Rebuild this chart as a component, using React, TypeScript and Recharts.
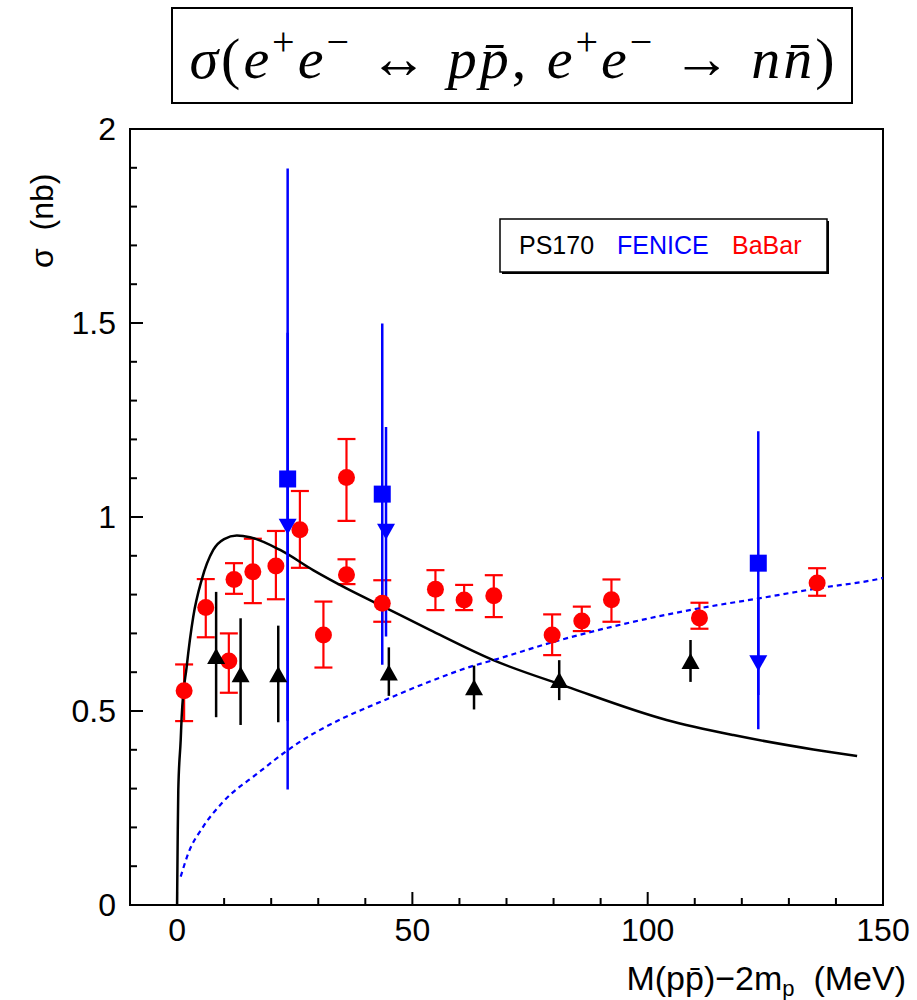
import React from 'react';
import { ComposedChart, Line, Scatter, XAxis, YAxis, ErrorBar, ReferenceArea } from 'recharts';

const W = 917;
const H = 1000;

const xDomain = [-10, 150];
const yDomain = [0, 2];
const xTicks = [0, 10, 20, 30, 40, 50, 60, 70, 80, 90, 100, 110, 120, 130, 140, 150];
const xMajor = [0, 50, 100, 150];
const yTicks = [0, 0.1, 0.2, 0.3, 0.4, 0.5, 0.6, 0.7, 0.8, 0.9, 1, 1.1, 1.2, 1.3, 1.4, 1.5, 1.6, 1.7, 1.8, 1.9, 2];
const yMajor = [0, 0.5, 1, 1.5, 2];

// BaBar (red circles)
const babarX = [1.5, 6.1, 11.0, 12.1, 16.1, 21.0, 26.1, 31.1, 36.0, 36.0, 43.6, 54.9, 61.0, 67.3, 79.7, 86.0, 92.3, 111.0, 136.0];
const babarY = [0.552, 0.767, 0.629, 0.839, 0.859, 0.874, 0.967, 0.696, 1.102, 0.851, 0.778, 0.814, 0.786, 0.797, 0.696, 0.732, 0.787, 0.740, 0.830];
const babarErrLo = [0.078, 0.077, 0.082, 0.037, 0.081, 0.086, 0.098, 0.084, 0.112, 0.024, 0.048, 0.054, 0.026, 0.055, 0.052, 0.026, 0.057, 0.028, 0.033];
const babarErrHi = [0.068, 0.073, 0.071, 0.042, 0.085, 0.090, 0.100, 0.086, 0.099, 0.040, 0.059, 0.049, 0.039, 0.053, 0.053, 0.037, 0.052, 0.039, 0.038];

// FENICE p pbar (blue squares)
const fenicePX = [23.5, 43.6, 123.5];
const fenicePY = [1.098, 1.059, 0.881];
const fenicePErr = [0.8, 0.44, 0.34];

// FENICE n nbar (blue triangles down)
const feniceNX = [23.5, 44.4, 123.5];
const feniceNY = [0.975, 0.962, 0.623];
const feniceNErr = [0.5, 0.27, 0.17];

// PS170 (black triangles up)
const ps170X = [8.3, 13.5, 21.5, 45.0, 63.1, 81.2, 109.1];
const ps170Y = [0.642, 0.595, 0.595, 0.599, 0.561, 0.580, 0.629];
const ps170ErrLo = [0.158, 0.131, 0.124, 0.060, 0.057, 0.052, 0.054];
const ps170ErrHi = [0.165, 0.144, 0.125, 0.065, 0.056, 0.051, 0.054];

// theory curves
const solidX = [0, 0.13, 0.26, 0.77, 0.98, 2.04, 3.44, 5.23, 7.69, 10.0, 12.7, 15.5, 21.9, 28.9, 36.0, 43.8, 53.7, 67.2, 82.8, 104.0, 118.2, 135.2, 144.5];
const solidY = [0, 0.168, 0.296, 0.425, 0.485, 0.614, 0.743, 0.838, 0.915, 0.943, 0.952, 0.948, 0.915, 0.863, 0.816, 0.769, 0.709, 0.631, 0.563, 0.477, 0.438, 0.401, 0.384];
const dashedX = [0.77, 2.38, 5.57, 9.8, 17.3, 23.5, 47.4, 53.7, 63.1, 67.2, 79.7, 111.1, 123.5, 136.0, 148.9, 150];
const dashedY = [0.073, 0.133, 0.202, 0.266, 0.341, 0.399, 0.545, 0.576, 0.617, 0.631, 0.677, 0.765, 0.790, 0.816, 0.840, 0.843];

const babarData = babarX.map((x, i) => ({ x, y: babarY[i], err: [babarErrLo[i], babarErrHi[i]] }));
const fenicePData = fenicePX.map((x, i) => ({ x, y: fenicePY[i], err: fenicePErr[i] }));
const feniceNData = feniceNX.map((x, i) => ({ x, y: feniceNY[i], err: feniceNErr[i] }));
const ps170Data = ps170X.map((x, i) => ({ x, y: ps170Y[i], err: [ps170ErrLo[i], ps170ErrHi[i]] }));
const solidData = solidX.map((x, i) => ({ x, y: solidY[i] }));
const dashedData = dashedX.map((x, i) => ({ x, y: dashedY[i] }));

const SANS = "'Liberation Sans', Arial, Helvetica, sans-serif";
const SERIF = "'Liberation Serif', 'DejaVu Serif', serif";

const XTick = (props: any) => {
  const { x, y, payload } = props;
  const major = xMajor.includes(payload.value);
  return (
    <g>
      <line x1={x} y1={y} x2={x} y2={y - (major ? 13 : 7)} stroke="#000" strokeWidth={2} />
      {major && (
        <text x={x} y={y + 36} textAnchor="middle" fontSize={32} fontFamily={SANS} fill="#000">
          {payload.value}
        </text>
      )}
    </g>
  );
};

const YTick = (props: any) => {
  const { x, y, payload } = props;
  const major = yMajor.some((m) => Math.abs(m - payload.value) < 1e-6);
  return (
    <g>
      <line x1={x} y1={y} x2={x + (major ? 13 : 7)} y2={y} stroke="#000" strokeWidth={2} />
      {major && (
        <text x={x - 14} y={y + 11} textAnchor="end" fontSize={32} fontFamily={SANS} fill="#000">
          {payload.value}
        </text>
      )}
    </g>
  );
};

const Circle = (p: any) => <circle cx={p.cx} cy={p.cy} r={8.5} fill="#ff0000" />;
const Square = (p: any) => <rect x={p.cx - 8.5} y={p.cy - 8.5} width={17} height={17} fill="#0000ff" />;
const TriDown = (p: any) => (
  <polygon points={`${p.cx - 9},${p.cy - 8} ${p.cx + 9},${p.cy - 8} ${p.cx},${p.cy + 8}`} fill="#0000ff" />
);
const TriUp = (p: any) => (
  <polygon points={`${p.cx - 9},${p.cy + 8} ${p.cx + 9},${p.cy + 8} ${p.cx},${p.cy - 8}`} fill="#000" />
);

export default function App() {
  return (
    <div style={{ position: 'absolute', left: 0, top: 0, width: W, height: H, background: '#fff' }}>
      <ComposedChart width={W} height={H} margin={{ top: 129, right: 34, bottom: 55, left: 70 }}>
        <XAxis
          dataKey="x"
          type="number"
          domain={xDomain}
          ticks={xTicks}
          interval={0}
          allowDataOverflow
          axisLine={false}
          tickLine={false}
          tickSize={0}
          tickMargin={0}
          height={40}
          tick={<XTick />}
        />
        <YAxis
          dataKey="y"
          type="number"
          domain={yDomain}
          ticks={yTicks}
          interval={0}
          allowDataOverflow
          axisLine={false}
          tickLine={false}
          tickSize={0}
          tickMargin={0}
          width={60}
          tick={<YTick />}
        />
        <ReferenceArea
          x1={xDomain[0]}
          x2={xDomain[1]}
          y1={yDomain[0]}
          y2={yDomain[1]}
          fill="none"
          fillOpacity={0}
          stroke="#000"
          strokeWidth={2}
        />
        <Scatter data={babarData} dataKey="y" shape={Circle} isAnimationActive={false}>
          <ErrorBar dataKey="err" direction="y" stroke="#ff0000" strokeWidth={2.2} width={9} />
        </Scatter>
        <Line
          data={solidData}
          dataKey="y"
          type="monotone"
          stroke="#000"
          strokeWidth={2.5}
          dot={false}
          isAnimationActive={false}
        />
        <Line
          data={dashedData}
          dataKey="y"
          type="monotone"
          stroke="#0000ff"
          strokeWidth={2.2}
          strokeDasharray="5 4"
          dot={false}
          isAnimationActive={false}
        />
        <Scatter data={ps170Data} dataKey="y" shape={TriUp} isAnimationActive={false}>
          <ErrorBar dataKey="err" direction="y" stroke="#000" strokeWidth={2.5} width={0} />
        </Scatter>
        <Scatter data={fenicePData} dataKey="y" shape={Square} isAnimationActive={false}>
          <ErrorBar dataKey="err" direction="y" stroke="#0000ff" strokeWidth={2.5} width={0} />
        </Scatter>
        <Scatter data={feniceNData} dataKey="y" shape={TriDown} isAnimationActive={false}>
          <ErrorBar dataKey="err" direction="y" stroke="#0000ff" strokeWidth={2.5} width={0} />
        </Scatter>
      </ComposedChart>
      <svg
        width={W}
        height={H}
        style={{ position: 'absolute', left: 0, top: 0, pointerEvents: 'none' }}
      >
        <rect x={172} y={8} width={680} height={95} fill="#fff" stroke="#000" strokeWidth={2} />
        <text
          x={512}
          y={78}
          textAnchor="middle"
          fontFamily={SERIF}
          fontSize={58}
          fill="#000"
          textLength={645}
          lengthAdjust="spacing"
          style={{ whiteSpace: 'pre' }}
        >
          <tspan fontStyle="italic">σ</tspan>
          <tspan>(</tspan>
          <tspan fontStyle="italic">e</tspan>
          <tspan dy={-23} fontSize={40}>+</tspan>
          <tspan dy={23} fontStyle="italic">e</tspan>
          <tspan dy={-23} fontSize={40}>−</tspan>
          <tspan dy={23}> ↔ </tspan>
          <tspan fontStyle="italic">{'pp\u0304'}</tspan>
          <tspan>, </tspan>
          <tspan fontStyle="italic">e</tspan>
          <tspan dy={-23} fontSize={40}>+</tspan>
          <tspan dy={23} fontStyle="italic">e</tspan>
          <tspan dy={-23} fontSize={40}>−</tspan>
          <tspan dy={23}> → </tspan>
          <tspan fontStyle="italic">{'nn\u0304'}</tspan>
          <tspan>)</tspan>
        </text>

        <rect x={502} y={221} width={327} height={53} fill="#000" />
        <rect x={500} y={219} width={327} height={53} fill="#fff" stroke="#000" strokeWidth={1.5} />
        <text x={519} y={254} fontSize={25} fontFamily={SANS} fill="#000">PS170</text>
        <text x={617} y={254} fontSize={25} fontFamily={SANS} fill="#0000ff">FENICE</text>
        <text x={732} y={254} fontSize={25} fontFamily={SANS} fill="#ff0000">BaBar</text>

        <text
          transform="translate(53, 268) rotate(-90)"
          fontSize={32}
          fontFamily={SANS}
          fill="#000"
          style={{ whiteSpace: 'pre' }}
        >
          {'σ  (nb)'}
        </text>
        <text x={906} y={990} textAnchor="end" fontSize={34} fontFamily={SANS} fill="#000" style={{ whiteSpace: 'pre' }}>
          {'M(pp\u0304)\u22122m'}
          <tspan fontSize={22} dy={6}>p</tspan>
          <tspan dy={-6}>{'  (MeV)'}</tspan>
        </text>
      </svg>
    </div>
  );
}
